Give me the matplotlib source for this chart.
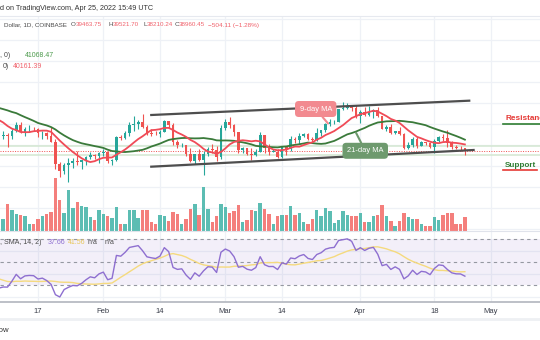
import numpy as np
import pandas as pd
import matplotlib
matplotlib.use("Agg")
import matplotlib.pyplot as plt
import matplotlib.dates as mdates
from matplotlib.lines import Line2D
from matplotlib.transforms import blended_transform_factory

plt.rcParams['font.family'] = ['Liberation Sans', 'DejaVu Sans']

# daily closes Dec 1 - Jan 7, only used to seed the moving averages and RSI
pre_close = [57200, 56500, 53600, 49200, 49400, 50580, 50620, 50500, 47550, 47140,
             49390, 50100, 46710, 48370, 48880, 47640, 46200, 46850, 46700, 46880,
             48940, 48630, 50820, 50850, 50430, 50800, 50640, 47540, 46460, 47120,
             46210, 47740, 47310, 46440, 45830, 43430, 43080, 41560]

dates = pd.date_range('2022-01-08', '2022-04-25', freq='D')

opens = [41545, 41672, 41865, 41822, 42736, 43921, 42592, 43100, 43177, 43113, 42250, 42375,
         41744, 40680, 36457, 35075, 36276, 36654, 36954, 36825, 37175, 37716, 38166, 37917,
         38483, 38744, 36944, 37149, 41566, 41406, 42412, 43840, 44118, 44379, 43525, 42395,
         42208, 42075, 42560, 44556, 43895, 40530, 40000, 40115, 38405, 37030, 38290, 37250,
         38335, 39225, 39120, 37710,
         43190, 44420, 43920, 42460, 39140, 39400, 38420, 38060, 38740, 41980, 39440, 38790,
         38810, 37790, 39670, 39290, 41120, 40920, 41760, 42200, 41260, 41000, 42370, 42890,
         43960, 44350, 44500, 46820, 47130, 47430, 47060,
         45530, 46290, 45810, 46400, 46620, 45500, 43170, 43440, 42250, 42750, 42160, 39520,
         40070, 41140, 39940, 40550, 40380, 39680, 40800, 41500, 41370, 40480, 39710, 39470,
         39463.75]
highs = [42300, 42786, 42245, 43100, 44350, 44459, 43460, 43800, 43480, 43200, 42700, 42580,
         43500, 41100, 36800, 36550, 37550, 37550, 38920, 37230, 38000, 38730, 38340, 38700,
         39250, 38840, 37400, 41730, 41930, 42660, 44500, 45500, 44800, 45850, 43900, 43000,
         42760, 42850, 44750, 44580, 44200, 40960, 40460, 40140, 39480, 38420, 39260, 38950,
         39700, 40280, 39860, 43760,
         44950, 45400, 44090, 42520, 39640, 39400, 39540, 39380, 42600, 42000, 40240, 39370,
         39300, 39920, 39870, 41700, 41480, 42330, 42400, 42300, 41550, 43340, 42900, 44200,
         45080, 44800, 46940, 48190, 48100, 47700, 47600,
         46700, 47200, 47440, 46880, 47200, 45500, 43900, 43970, 42800, 43430, 42420, 40700,
         41560, 41500, 40850, 40700, 40600, 41100, 41750, 42200, 42970, 40800, 39990, 39930,
         39521.70]
lows = [40501, 41200, 39650, 41268, 42450, 42311, 41730, 42570, 42700, 41540, 41250, 41140,
        40600, 35500, 34000, 34600, 32950, 35700, 36250, 35500, 36200, 37300, 37350, 36630,
        38000, 36600, 36250, 37050, 40950, 41100, 41700, 42700, 43150, 43200, 42000, 41800,
        41880, 41570, 42430, 43340, 40100, 39450, 39650, 38020, 36810, 36400, 37050, 34320,
        38030, 38590, 37020, 37450,
        42830, 43340, 41850, 38600, 38600, 38100, 37150, 38000, 38650, 38540, 38230, 38660,
        37600, 37600, 38130, 38900, 40520, 40150, 41510, 40930, 40500, 40880, 41750, 42590,
        43600, 44080, 44420, 46640, 46940, 46560, 45200,
        44200, 45630, 45520, 45120, 45360, 43120, 42730, 42110, 42130, 41870, 39200, 39250,
        39580, 39550, 39770, 40010, 39550, 38540, 40570, 40850, 39750, 39200, 39330, 38930,
        38210.24]
closes = [41672, 41865, 41822, 42736, 43921, 42592, 43100, 43177, 43113, 42250, 42375, 41744,
          40680, 36457, 35075, 36276, 36654, 36954, 36825, 37175, 37716, 38166, 37917, 38483,
          38744, 36944, 37149, 41566, 41406, 42412, 43840, 44118, 44379, 43525, 42395, 42208,
          42075, 42560, 44556, 43895, 40530, 40000, 40115, 38405, 37030, 38290, 37250, 38335,
          39225, 39120, 37710, 43190,
          44420, 43920, 42460, 39140, 39400, 38420, 38060, 38740, 41980, 39440, 38790, 38810,
          37790, 39670, 39290, 41120, 40920, 41760, 42200, 41260, 41000, 42370, 42890, 43960,
          44350, 44500, 46820, 47130, 47430, 47060, 45530,
          46290, 45810, 46400, 46620, 45500, 43170, 43440, 42250, 42750, 42160, 39520, 40070,
          41140, 39940, 40550, 40380, 39680, 40800, 41500, 41370, 40480, 39710, 39470, 39450,
          38960.45]
# volume, thousand BTC
volumes = [13.0, 8.8, 20.3, 15.5, 13.0, 11.8, 11.0, 5.3, 5.3, 8.8, 11.0, 12.5, 14.3, 40.0,
           23.5, 13.8, 30.5, 17.3, 22.0, 18.5, 18.3, 10.5, 8.3, 15.5,
           13.0, 11.0, 10.0, 17.8, 5.5, 5.0, 16.0, 16.0, 10.0, 16.0, 15.5, 7.0, 5.5, 11.8,
           11.5, 7.8, 14.5, 13.0, 5.3, 9.3, 16.3, 20.0, 12.3, 33.3, 16.3, 7.0, 11.3, 20.5,
           17.8, 13.8, 15.3, 19.3, 7.0, 8.5, 15.5, 14.8, 21.0, 16.5, 13.0, 5.0, 11.0, 11.8,
           11.8, 18.5, 11.8, 13.8, 6.8, 5.5, 8.8, 16.0, 11.0, 17.5, 15.0, 6.3, 8.5, 15.0,
           12.3, 11.0, 11.0,
           13.8, 6.8, 6.8, 11.0, 11.8, 19.3, 11.0, 7.5, 3.8, 7.5, 13.5, 10.5, 9.3, 8.8,
           5.0, 3.8, 3.8, 10.5, 8.0, 11.8, 13.8, 13.5, 5.5, 5.5, 10.5]

tick_dates = ['2022-01-17', '2022-02-01', '2022-02-14', '2022-03-01', '2022-03-14',
              '2022-04-01', '2022-04-18', '2022-05-01']
tick_labels = ['17', 'Feb', '14', 'Mar', '14', 'Apr', '18', 'May']

UP, DOWN = '#26A69A', '#EF5350'
VOL_UP, VOL_DOWN = '#5CBDB3', '#F47F7C'
GRID = '#EEF1F6'

o = np.array(opens); h = np.array(highs); l = np.array(lows); c = np.array(closes)
xs = mdates.date2num(dates)
up = c >= o
col = np.where(up, UP, DOWN)

# indicators
allc = pd.Series(pre_close + closes, dtype=float)
n_pre = len(pre_close)
sma9 = allc.rolling(9).mean().values[n_pre:]
sma21 = allc.rolling(21).mean().values[n_pre:]


def rsi_wilder(vals, n=14):
    d = np.diff(vals)
    gain = np.clip(d, 0, None)
    loss = np.clip(-d, 0, None)
    ag = np.full(len(vals), np.nan)
    al = np.full(len(vals), np.nan)
    ag[n] = gain[:n].mean()
    al[n] = loss[:n].mean()
    for i in range(n + 1, len(vals)):
        ag[i] = (ag[i - 1] * (n - 1) + gain[i - 1]) / n
        al[i] = (al[i - 1] * (n - 1) + loss[i - 1]) / n
    return 100 - 100 / (1 + ag / al)


rsi_all = rsi_wilder(allc.values)
rsi = rsi_all[n_pre:]
rsi_ma = pd.Series(rsi_all).rolling(14).mean().values[n_pre:]

W, H = 540, 340
fig = plt.figure(figsize=(W / 100, H / 100), dpi=100)
fig.patch.set_facecolor('white')


def rect(x0, y0, x1, y1):
    return [x0 / W, 1 - y1 / H, (x1 - x0) / W, (y1 - y0) / H]


def txt(x, y, s, color='#4A4A4A', size=5.2, **kw):
    fig.text(x / W, 1 - y / H, s, color=color, fontsize=size, va='center', ha=kw.pop('ha', 'left'), **kw)


ax = fig.add_axes(rect(0, 16, W, 231))
axv = ax.twinx()
axr = fig.add_axes(rect(0, 231, W, 302), sharex=ax)
ax.set_zorder(axv.get_zorder() + 1)
ax.patch.set_visible(False)

day = lambda s: mdates.date2num(pd.Timestamp(s))
px_day = 4.356
x_left = day('2022-01-17') - 38 / px_day
ax.set_xlim(x_left, x_left + W / px_day)
ax.set_ylim(23710, 64560)
axv.set_ylim(0, 161.25)
axr.set_ylim(15.22, 76.96)

for a in (ax, axv, axr):
    for s in a.spines.values():
        s.set_visible(False)
    a.tick_params(left=False, right=False, labelleft=False, labelright=False,
                  bottom=False, labelbottom=False)

# grid, kept on the bottom-most axes so it sits behind the volume
tk = [day(t) for t in tick_dates]
for t in tk:
    axv.axvline(t, color=GRID, lw=0.9, zorder=0)
    axr.axvline(t, color=GRID, lw=0.9, zorder=0)
bt = blended_transform_factory(axv.transAxes, ax.transData)
for p in range(24000, 64001, 4000):
    axv.plot([0, 1], [p, p], color=GRID, lw=0.9, transform=bt, zorder=0)
for v in (20, 40, 60):
    axr.axhline(v, color=GRID, lw=0.9, zorder=0)

# volume
axv.bar(xs, volumes, width=0.78, color=np.where(up, VOL_UP, VOL_DOWN), linewidth=0, zorder=2)

# light support band lines and last price line
ax.axhline(39860, color='#D3E7D1', lw=1.1, zorder=1)
ax.axhline(38150, color='#D3E7D1', lw=1.1, zorder=1)
ax.axhline(closes[-1], color=DOWN, lw=0.7, ls=(0, (1, 1.5)), zorder=1)

# candles
ax.vlines(xs, l, h, colors=col, lw=0.8, zorder=3)
ax.bar(xs, np.maximum(np.abs(c - o), 60), bottom=np.minimum(o, c), width=0.62,
       color=col, linewidth=0, zorder=4)

ax.plot(xs, sma21, color='#3A7A3A', lw=1.3, zorder=5)
ax.plot(xs, sma9, color='#F04B57', lw=1.3, zorder=6)

# channel
ax.plot([day('2022-02-12'), day('2022-04-26')], [45750, 48470], color='#4E4E4E', lw=1.6, zorder=7)
ax.plot([day('2022-02-12'), day('2022-04-27')], [35930, 39100], color='#4E4E4E', lw=1.6, zorder=7)

ax.annotate('9-day MA', xy=(day('2022-03-24 14:00'), 44140), xytext=(day('2022-03-21 18:00'), 46890),
            ha='center', va='center', color='white', fontsize=5.4, zorder=8,
            bbox=dict(boxstyle='round,pad=0.6,rounding_size=0.5', fc='#F28A90', ec='none'),
            arrowprops=dict(arrowstyle='-', color='#F28A90', lw=1.5, shrinkA=0, shrinkB=0))
ax.annotate('21-day MA', xy=(day('2022-03-31'), 42390), xytext=(day('2022-04-02 03:00'), 38950),
            ha='center', va='center', color='white', fontsize=5.4, zorder=8,
            bbox=dict(boxstyle='round,pad=0.6,rounding_size=0.5', fc='#6E9A6E', ec='none'),
            arrowprops=dict(arrowstyle='-', color='#6E9A6E', lw=1.5, shrinkA=0, shrinkB=0))

# RSI pane
axr.axhspan(30, 70, color='#7E57C2', alpha=0.09, lw=0, zorder=0)
for v in (70, 50, 30):
    axr.axhline(v, color='#9598A1', lw=0.8, ls=(0, (3, 3)), zorder=1)
axr.plot(xs, rsi_ma, color='#F5DA7E', lw=1.0, zorder=2)
axr.plot(xs, rsi, color='#8E6FD0', lw=1.0, zorder=3)

axr.spines['top'].set_visible(True)
axr.spines['top'].set_color('#E0E3EB')
axr.spines['top'].set_linewidth(0.8)
axr.spines['bottom'].set_visible(True)
axr.spines['bottom'].set_color('#B2B5BE')
axr.spines['bottom'].set_linewidth(1.2)
axr.set_xticks(tk)
axr.set_xticklabels(tick_labels)
axr.tick_params(labelbottom=True, length=0, pad=4, labelsize=5.5, labelcolor='#3A3E4A')

ax.spines['top'].set_visible(True)
ax.spines['top'].set_color('#E6E9EF')
ax.spines['top'].set_linewidth(0.8)

fig.add_artist(Line2D([0, 1], [1 - 319 / H] * 2, color='#EEF0F3', lw=2, transform=fig.transFigure))

# header and legends
txt(0, 8.5, 'd on TradingView.com, Apr 25, 2022 15:49 UTC', '#333333', 5.2)
txt(4, 25, 'Dollar, 1D, COINBASE', '#4A4A4A', 4.5)
red_txt = '#F0616B'
for letter, lx, val, vx in [('O', 71.0, '39463.75', 76.2), ('H', 108.5, '39521.70', 113.2),
                            ('L', 143.5, '38210.24', 147.2), ('C', 174.2, '38960.45', 178.9)]:
    txt(lx, 25, letter, '#4A4A4A', 4.5)
    txt(vx, 25, val, red_txt, 4.5)
txt(208.5, 25, '\u2212504.11 (\u22121.28%)', red_txt, 4.6)
txt(0, 55.5, ', 0)', '#4A4A4A', 5.0)
txt(25, 55.5, '41068.47', '#4C9A4C', 5.0)
txt(3, 66, '0)', '#4A4A4A', 5.0)
txt(12.7, 66, '40161.39', red_txt, 5.0)

txt(0, 242, ', SMA, 14, 2)', '#4A4A4A', 5.0)
txt(48, 242, '37.66', '#8E6FD0', 5.0)
txt(68, 242, '41.56', '#E8C65A', 5.0)
txt(88, 242, 'n/a', '#4A4A4A', 5.0)
txt(105, 242, 'n/a', '#4A4A4A', 5.0)

# support / resistance tags on the right
txt(505, 119, 'Resistance', '#E53935', 5.9, fontweight='bold')
fig.add_artist(Line2D([503 / W, 1], [1 - 123.5 / H] * 2, color='#2E7D32', lw=1.2, transform=fig.transFigure))
txt(505, 165, 'Support', '#2E7D32', 5.9, fontweight='bold')
fig.add_artist(Line2D([503 / W, 537 / W], [1 - 170 / H] * 2, color='#E53935', lw=1.2, transform=fig.transFigure))

txt(8.5, 330, 'Now', '#333333', 5.6, ha='right')

fig.savefig('out.png', dpi=100, facecolor='white')
